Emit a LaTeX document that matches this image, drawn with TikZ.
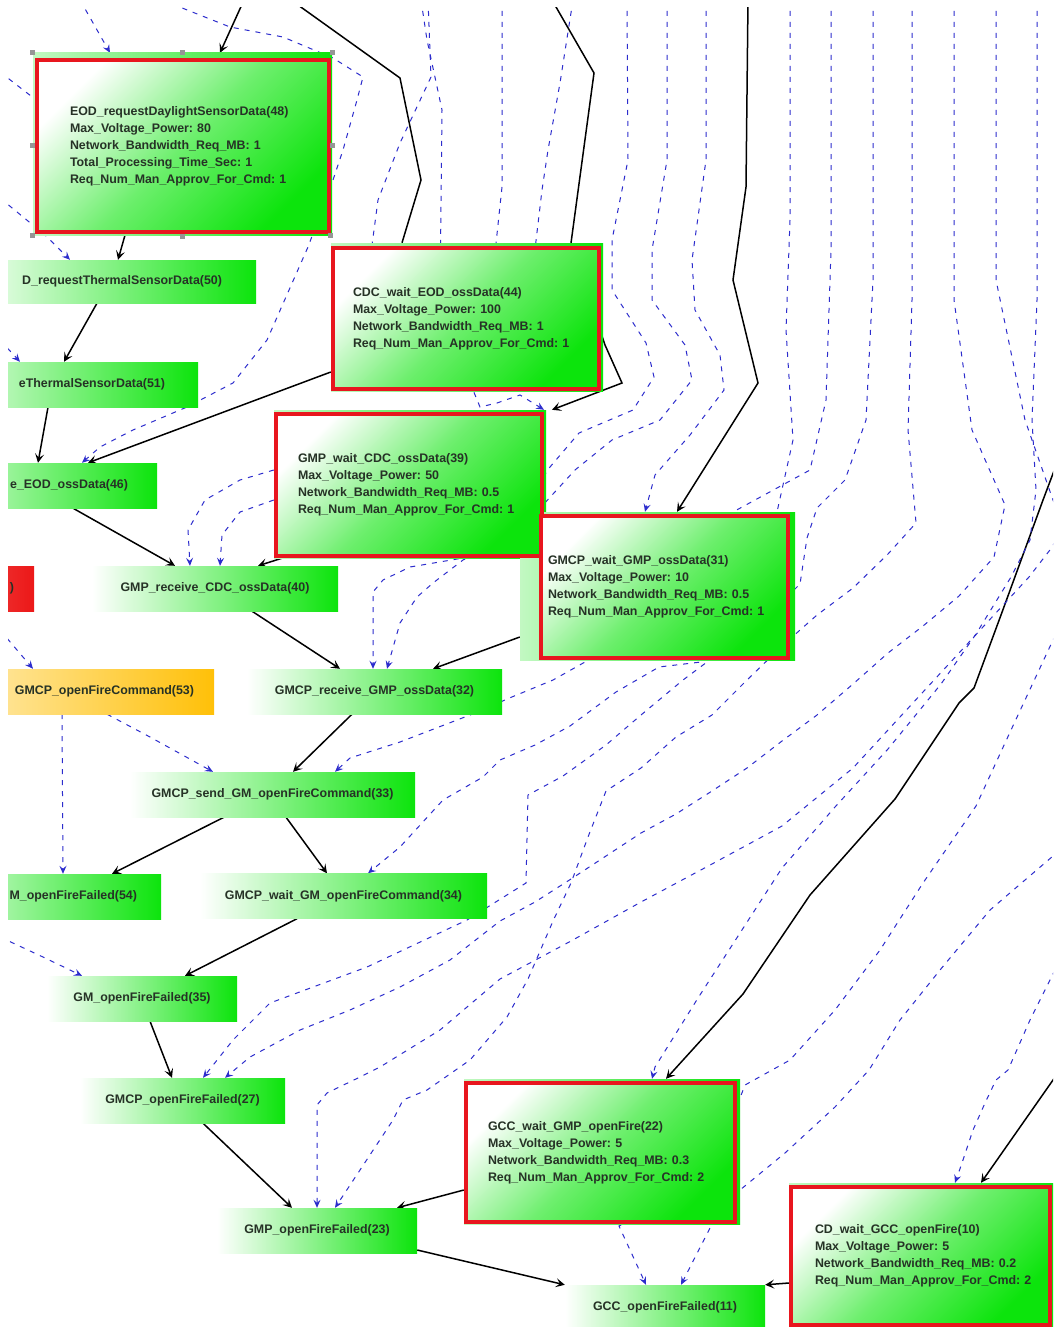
\documentclass[tikz,border=0pt]{standalone}
\usepackage{fontspec}
\setmainfont{Liberation Sans}
\usetikzlibrary{arrows.meta}
\pgfdeclarelayer{bg}
\pgfdeclarelayer{under}
\pgfsetlayers{bg,under,main}
\definecolor{gG}{RGB}{12,228,12}
\definecolor{rB}{RGB}{232,22,30}
\definecolor{oO}{RGB}{255,192,8}
\definecolor{bL}{RGB}{45,45,205}
\definecolor{tx}{RGB}{38,50,38}
\definecolor{rR}{RGB}{236,24,24}
\definecolor{hG}{RGB}{150,150,150}
\tikzset{
  lbl/.style={font=\fontsize{12.4}{17}\selectfont\bfseries, text=tx},
  plainbox/.style={rectangle, inner sep=0pt, minimum height=45pt, left color=white, right color=gG, lbl},
  cutbox/.style={plainbox, align=right},
  orangebox/.style={cutbox, left color=oO!30!white, right color=oO},
  redleft/.style={cutbox, left color=rR!40!white, right color=rR},
  redbox/.style={rectangle, draw=rB, line width=3.5pt, top color=white, bottom color=gG, middle color=gG!60!white, shading angle=45, lbl, align=left, inner ysep=0pt},
  underlay/.style={rectangle, inner sep=0pt, left color=gG!25!white, right color=gG},
  blk/.style={black, line width=1.5pt, -{Stealth[length=9pt,width=9pt,inset=4pt]}},
  blkplain/.style={black, line width=1.5pt},
  blu/.style={bL, line width=1pt, dash pattern=on 5pt off 6pt, -{Stealth[length=8pt,width=7pt,inset=3pt]}},
  bluplain/.style={bL, line width=1pt, dash pattern=on 5pt off 6pt},
}
\begin{document}
\begin{tikzpicture}[x=1pt,y=-1pt]
\useasboundingbox (0,0) rectangle (1053,1327);
% ---------- underlays of the red boxes
\begin{pgfonlayer}{under}
\begin{scope}
\clip (8,8) rectangle (1053,1327);
\node[underlay, minimum width=299pt, minimum height=182pt] (EOD48) at (182.5,144) {};
\node[underlay, minimum width=272pt, minimum height=148pt] (CDC44) at (467,317) {};
\node[underlay, minimum width=272pt, minimum height=148pt] (GMP39) at (410,484) {};
\node[underlay, minimum width=275pt, minimum height=148pt] (GMCP31) at (657.5,586) {};
\node[underlay, minimum width=276pt, minimum height=145pt] (GCC22) at (602,1151.5) {};
\node[underlay, minimum width=269pt, minimum height=144pt] (CD10) at (923.5,1255) {};
\end{scope}
\end{pgfonlayer}
% ---------- boxes
\begin{scope}
\clip (8,8) rectangle (1053,1327);
\node[redbox, minimum width=292pt, minimum height=172pt, text width=226pt, inner xsep=33pt] (EOD48b) at (183,146)
 {EOD\_requestDaylightSensorData(48)\\Max\_Voltage\_Power:~80\\Network\_Bandwidth\_Req\_MB:~1\\Total\_Processing\_Time\_Sec:~1\\Req\_Num\_Man\_Approv\_For\_Cmd:~1};
\node[redbox, minimum width=266pt, minimum height=141pt, text width=226pt, inner xsep=20pt] (CDC44b) at (466,318.5)
 {CDC\_wait\_EOD\_ossData(44)\\Max\_Voltage\_Power:~100\\Network\_Bandwidth\_Req\_MB:~1\\Req\_Num\_Man\_Approv\_For\_Cmd:~1};
\node[redbox, minimum width=266pt, minimum height=142pt, text width=222pt, inner xsep=22pt] (GMP39b) at (409,485)
 {GMP\_wait\_CDC\_ossData(39)\\Max\_Voltage\_Power:~50\\Network\_Bandwidth\_Req\_MB:~0.5\\Req\_Num\_Man\_Approv\_For\_Cmd:~1};
\node[redbox, minimum width=247pt, minimum height=142pt, text width=233pt, inner xsep=7pt] (GMCP31b) at (664.5,587)
 {GMCP\_wait\_GMP\_ossData(31)\\Max\_Voltage\_Power:~10\\Network\_Bandwidth\_Req\_MB:~0.5\\Req\_Num\_Man\_Approv\_For\_Cmd:~1};
\node[redbox, minimum width=269pt, minimum height=139pt, text width=225pt, inner xsep=22pt] (GCC22b) at (600.5,1152.5)
 {GCC\_wait\_GMP\_openFire(22)\\Max\_Voltage\_Power:~5\\Network\_Bandwidth\_Req\_MB:~0.3\\Req\_Num\_Man\_Approv\_For\_Cmd:~2};
\node[redbox, minimum width=259pt, minimum height=138pt, text width=211pt, inner xsep=24pt] (CD10b) at (920.5,1256)
 {CD\_wait\_GCC\_openFire(10)\\Max\_Voltage\_Power:~5\\Network\_Bandwidth\_Req\_MB:~0.2\\Req\_Num\_Man\_Approv\_For\_Cmd:~2};
% cut boxes at the left edge
\node[cutbox, minimum width=296pt, minimum height=43pt, text width=228pt, inner xsep=34pt] (n50) at (108,281.5) {D\_requestThermalSensorData(50)};
\node[cutbox, minimum width=278pt, text width=212pt, inner xsep=33pt] (n51) at (59,384.5) {eThermalSensorData(51)};
\node[cutbox, minimum width=257pt, text width=199pt, inner xsep=29pt] (n46) at (28.5,485.5) {e\_EOD\_ossData(46)};
\node[cutbox, minimum width=251pt, text width=203pt, inner xsep=24pt] (n54) at (35.5,896.5) {M\_openFireFailed(54)};
\node[orangebox, minimum width=264pt, text width=224pt, inner xsep=20pt] (GMCP53) at (82,691.5) {GMCP\_openFireCommand(53)};
\node[redleft, minimum width=234pt, text width=194pt, inner xsep=20pt] (redL) at (-83,588.5) {)};
% full boxes
\node[plainbox, minimum width=246pt] (GMP40) at (215,588.5) {GMP\_receive\_CDC\_ossData(40)};
\node[plainbox, minimum width=255pt] (GMCP32) at (374.5,691.5) {GMCP\_receive\_GMP\_ossData(32)};
\node[plainbox, minimum width=285pt] (GMCP33) at (272.5,794.5) {GMCP\_send\_GM\_openFireCommand(33)};
\node[plainbox, minimum width=287pt] (GMCP34) at (343.5,896) {GMCP\_wait\_GM\_openFireCommand(34)};
\node[plainbox, minimum width=190pt] (GM35) at (142,998.5) {GM\_openFireFailed(35)};
\node[plainbox, minimum width=205pt] (GMCP27) at (182.5,1100.5) {GMCP\_openFireFailed(27)};
\node[plainbox, minimum width=200pt] (GMP23) at (317,1230.5) {GMP\_openFireFailed(23)};
\node[plainbox, minimum width=200pt] (GCC11) at (665,1307.5) {GCC\_openFireFailed(11)};
% selection handles of the selected box
\foreach \hx/\hy in {32/53,182/53,332/53,32/145,332/145,32/235,182/236,330/235}
  \fill[hG] (\hx-2.5,\hy-2.5) rectangle (\hx+2.5,\hy+2.5);
\end{scope}
% ---------- connectors
\begin{pgfonlayer}{bg}
\fill[white] (0,0) rectangle (1053,1327);
\begin{scope}
\clip (8,8) rectangle (1053,1327);
\coordinate (t1) at (244,0);
\coordinate (t19) at (1060,1070);
\coordinate (t20) at (748,0);
\coordinate (t21) at (552,0);
\coordinate (t22) at (291,0);
\coordinate (t23) at (1060,455);
% solid black
\draw[blk] (t1) -- (220,0 |- EOD48.north);
\draw[blk] (125,0 |- EOD48.south) -- (118,0 |- n50.north);
\draw[blk] (97,0 |- n50.south) -- (64,0 |- n51.north);
\draw[blk] (48,0 |- n51.south) -- (38,0 |- n46.north);
\draw[blk] (CDC44.west |- 0,372) -- (88,0 |- n46.north);
\draw[blk] (73,0 |- n46.south) -- (175,0 |- GMP40.north);
\draw[blk] (282,0 |- GMP39.south) -- (258,0 |- GMP40.north);
\draw[blk] (252,0 |- GMP40.south) -- (340,0 |- GMCP32.north);
\draw[blk] (GMCP31.west |- 0,637) -- (433,0 |- GMCP32.north);
\draw[blk] (352,0 |- GMCP32.south) -- (293,0 |- GMCP33.north);
\draw[blk] (224,0 |- GMCP33.south) -- (112,0 |- n54.north);
\draw[blk] (286,0 |- GMCP33.south) -- (327,0 |- GMCP34.north);
\draw[blk] (297,0 |- GMCP34.south) -- (185,0 |- GM35.north);
\draw[blk] (150,0 |- GM35.south) -- (172,0 |- GMCP27.north);
\draw[blk] (203,0 |- GMCP27.south) -- (292,0 |- GMP23.north);
\draw[blk] (GCC22.west |- 0,1190) -- (397,0 |- GMP23.north);
\draw[blk] (GMP23.east |- 0,1250) -- (GCC11.north west);
\draw[blk] (CD10.west |- 0,1283) -- (GCC11.north east);
\draw[blk] (t19) -- (981,0 |- CD10.north);
\draw[blk] (t20) -- (746,187) -- (733,280) -- (758,383) -- (677,0 |- GMCP31.north);
\draw[blk] (t21) -- (594,73) -- (571,243) -- (605,345) -- (622,383) -- (552,0 |- GMP39.north);
\draw[blkplain] (t22) -- (400,78) -- (421,180) -- (402,0 |- CDC44.north);
\draw[blk] (t23) -- (1043,500) -- (1001,615) -- (974,688) -- (959,703) -- (895,799) -- (810,895) -- (743,994) -- (666,0 |- GCC22.north);
% dashed blue, left part
\coordinate (d1) at (80,0);
\coordinate (d2) at (162,0);
\coordinate (d3) at (0,72);
\coordinate (d4) at (0,198);
\coordinate (d5) at (0,340);
\coordinate (d6) at (0,630);
\coordinate (d9) at (0,937);
\coordinate (d12) at (428,0);
\coordinate (d13) at (421,0);
\coordinate (d14) at (502,0);
\coordinate (d15) at (573,0);
\draw[blu] (d1) -- (110,0 |- EOD48.north);
\draw[blu] (d2) -- (230,27) -- (283,37) -- (333,58) -- (363,77) -- (357,100) -- (343,150) -- (333,180) -- (308,247) -- (267,340) -- (233,383) -- (187,407) -- (133,430) -- (100,447) -- (82,0 |- n46.north);
\draw[bluplain] (d3) -- (40,103);
\draw[blu] (d4) -- (45,235) -- (70,0 |- n50.north);
\draw[blu] (d5) -- (20,0 |- n51.north);
\draw[blu] (d6) -- (33,0 |- GMCP53.north);
\draw[blu] (62,0 |- GMCP53.south) -- (63,0 |- n54.north);
\draw[blu] (107,0 |- GMCP53.south) -- (150,737) -- (213,0 |- GMCP33.north);
\draw[blu] (d9) -- (43,957) -- (82,0 |- GM35.north);
\draw[blu] (GMP39.west |- 0,470) -- (240,480) -- (205,500) -- (188,530) -- (190,0 |- GMP40.north);
\draw[blu] (GMP39.west |- 0,500) -- (240,512) -- (222,535) -- (220,0 |- GMP40.north);
\draw[blu] (d12) -- (431,77) -- (400,143) -- (378,200) -- (370,260) -- (473,390) -- (480,407) -- (497,403) -- (520,395) -- (544,0 |- GMP39.north);
\draw[bluplain] (d13) -- (427,40) -- (442,110) -- (440,300);
\draw[bluplain] (d14) -- (502,187) -- (490,300);
\draw[bluplain] (d15) -- (560,83) -- (548,150) -- (542,190) -- (529,300);
% dashed blue, right bundle
\coordinate (r1) at (627,0);
\coordinate (r2) at (667,0);
\coordinate (r3) at (706,0);
\coordinate (r4) at (790,0);
\coordinate (r5) at (831,0);
\coordinate (r6) at (873,0);
\coordinate (r7) at (912,0);
\coordinate (r8) at (954,0);
\coordinate (r9) at (996,0);
\coordinate (r10) at (1037,0);
\coordinate (r11) at (1060,625);
\coordinate (r12) at (1060,850);
\coordinate (r13) at (1060,960);
\draw[blu] (r1) -- (628,160) -- (612,240) -- (612,290) -- (646,343) -- (654,377) -- (633,410) -- (579,433) -- (550,467) -- (500,540) -- (463,560) -- (433,583) -- (417,597) -- (400,623) -- (387,0 |- GMCP32.north);
\draw[blu] (r2) -- (667,160) -- (652,250) -- (652,300) -- (685,345) -- (692,380) -- (660,420) -- (612,440) -- (575,470) -- (520,530) -- (463,558) -- (410,567) -- (383,580) -- (373,592) -- (373,0 |- GMCP32.north);
\draw[blu] (r3) -- (706,160) -- (692,260) -- (695,310) -- (720,355) -- (724,390) -- (690,435) -- (655,475) -- (645,0 |- GMCP31.north);
\draw[blu] (r4) -- (790,220) -- (786,330) -- (793,440) -- (777,512) -- (600,655) -- (585,662) -- (553,680) -- (507,699) -- (483,710) -- (400,742) -- (350,758) -- (335,0 |- GMCP33.north);
\draw[blu] (r5) -- (831,250) -- (826,400) -- (810,470) -- (733,512) -- (705,650) -- (701,662) -- (659,667) -- (616,692) -- (570,726) -- (535,745) -- (500,760) -- (483,777) -- (443,800) -- (400,847) -- (368,0 |- GMCP34.north);
\draw[blu] (r6) -- (873,280) -- (866,420) -- (845,480) -- (817,508) -- (807,538) -- (800,584) -- (754,630) -- (719,653) -- (683,680) -- (641,715) -- (606,745) -- (563,776) -- (528,795) -- (526,883) -- (467,920) -- (367,967) -- (270,1003) -- (233,1040) -- (203,0 |- GMCP27.north);
\draw[blu] (r7) -- (912,300) -- (908,430) -- (916,523) -- (888,554) -- (853,588) -- (817,615) -- (782,646) -- (747,680) -- (712,715) -- (676,737) -- (641,768) -- (606,791) -- (588,837) -- (571,883) -- (553,921) -- (528,979) -- (507,1017) -- (470,1060) -- (427,1090) -- (403,1100) -- (393,1120) -- (360,1170) -- (335,0 |- GMP23.north);
\draw[blu] (r8) -- (954,300) -- (972,430) -- (1005,505) -- (994,557) -- (959,596) -- (923,626) -- (888,653) -- (853,684) -- (817,715) -- (782,741) -- (747,768) -- (712,791) -- (676,814) -- (641,833) -- (606,856) -- (571,879) -- (535,902) -- (500,921) -- (450,960) -- (400,987) -- (350,1010) -- (300,1030) -- (250,1057) -- (225,0 |- GMCP27.north);
\draw[blu] (r9) -- (996,280) -- (1025,420) -- (1060,520) -- (1053,546) -- (1029,577) -- (994,615) -- (959,653) -- (923,692) -- (888,730) -- (853,768) -- (782,826) -- (712,864) -- (641,902) -- (571,941) -- (500,979) -- (440,1030) -- (380,1067) -- (360,1077) -- (327,1093) -- (317,1105) -- (317,0 |- GMP23.north);
\draw[blu] (r10) -- (1037,300) -- (1032,420) -- (1036,490) -- (1030,540) -- (1011,577) -- (976,634) -- (941,684) -- (888,749) -- (835,807) -- (782,868) -- (740,933) -- (698,998) -- (655,1067) -- (652,0 |- GCC22.north);
\draw[blu] (r11) -- (1011,730) -- (976,806) -- (923,883) -- (880,950) -- (835,1010) -- (790,1060) -- (745,1085) -- (720,1150) -- (711,1226) -- (681,0 |- GCC11.north);
\draw[blu] (r12) -- (990,910) -- (940,970) -- (900,1020) -- (869,1070) -- (835,1107) -- (785,1153) -- (740,1190) -- (640,1215) -- (619,1226) -- (646,0 |- GCC11.north);
\draw[blu] (r13) -- (1030,1020) -- (1008,1070) -- (996,1080) -- (985,1103) -- (973,1130) -- (962,1163) -- (955,0 |- CD10.north);
\end{scope}
\end{pgfonlayer}
\end{tikzpicture}
\end{document}
